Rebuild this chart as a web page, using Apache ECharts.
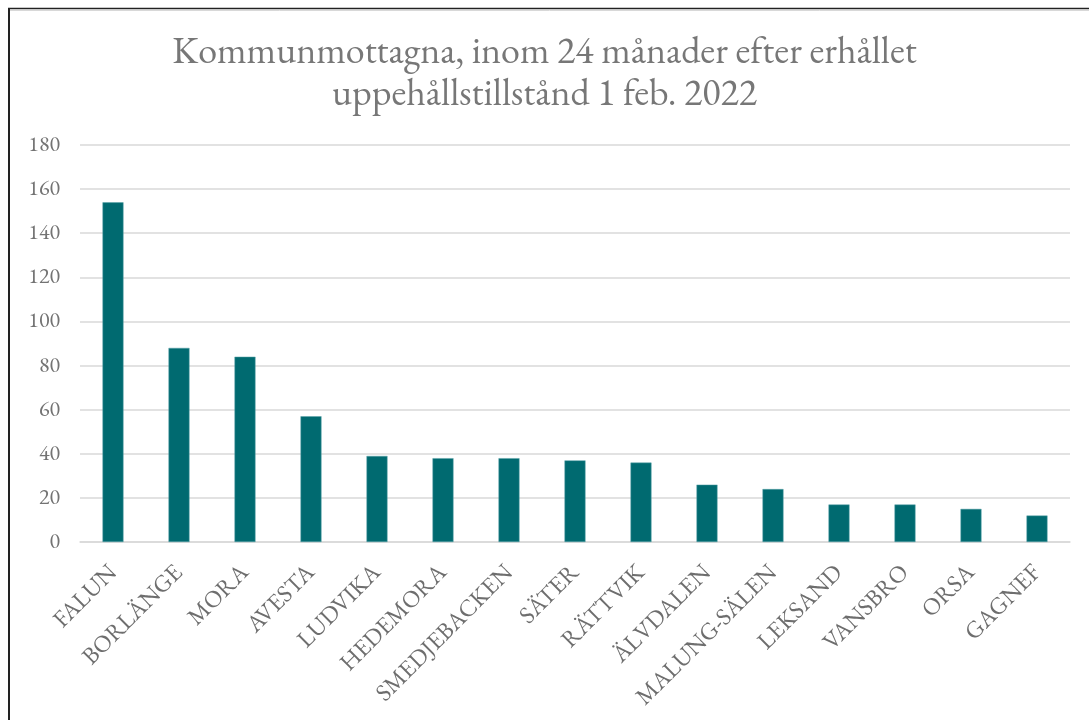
<!DOCTYPE html>
<html>
<head>
<meta charset="utf-8">
<script src="https://cdn.jsdelivr.net/npm/echarts@6/dist/echarts.min.js"></script>
<style>
html,body{margin:0;padding:0;background:#fff;}
#chart{width:1089px;height:720px;}
</style>
</head>
<body>
<div id="chart"></div>
<script>
const titleText = 'Kommunmottagna, inom 24 månader efter erhållet\nuppehållstillstånd 1 feb. 2022';
const categories = ['FALUN','BORLÄNGE','MORA','AVESTA','LUDVIKA','HEDEMORA','SMEDJEBACKEN','SÄTER','RÄTTVIK','ÄLVDALEN','MALUNG-SÄLEN','LEKSAND','VANSBRO','ORSA','GAGNEF'];
const values = [154, 88, 84, 57, 39, 38, 38, 37, 36, 26, 24, 17, 17, 15, 12];
const yMin = 0, yMax = 180, yStep = 20;

const serif = '"EB Garamond", Garamond, "Liberation Serif", "DejaVu Serif", serif';
const chart = echarts.init(document.getElementById('chart'));
chart.setOption({
  backgroundColor: '#fff',
  animation: false,
  title: {
    text: titleText,
    left: 'center',
    top: 27,
    textStyle: { fontFamily: serif, fontSize: 38, fontWeight: 'normal', color: '#777777', lineHeight: 42 }
  },
  graphic: [
    { type: 'line', shape: { x1: 9, y1: 8, x2: 9, y2: 720 }, style: { stroke: '#222', lineWidth: 2 } },
    { type: 'line', shape: { x1: 8, y1: 8.5, x2: 1089, y2: 8.5 }, style: { stroke: '#222', lineWidth: 1.5 } },
    { type: 'line', shape: { x1: 10, y1: 10.5, x2: 1089, y2: 10.5 }, style: { stroke: '#d8d8d8', lineWidth: 1 } }
  ],
  grid: { left: 80, right: 19, top: 145, bottom: 178, containLabel: false },
  xAxis: {
    type: 'category',
    data: categories,
    axisLine: { show: true, lineStyle: { color: '#d9d9d9', width: 1.5 } },
    axisTick: { show: false },
    axisLabel: { rotate: 45, interval: 0, margin: 27, fontFamily: serif, fontSize: 24, color: '#6e6e6e' }
  },
  yAxis: {
    type: 'value',
    min: yMin, max: yMax, interval: yStep,
    axisLine: { show: false },
    axisTick: { show: false },
    splitLine: { lineStyle: { color: '#d9d9d9', width: 1.5 } },
    axisLabel: { margin: 20, fontFamily: serif, fontSize: 22, color: '#737373' }
  },
  series: [{
    type: 'bar',
    data: values,
    barWidth: 21,
    itemStyle: { color: '#006A70', borderColor: '#5aa3a8', borderWidth: 0.5 }
  }]
});
</script>
</body>
</html>
